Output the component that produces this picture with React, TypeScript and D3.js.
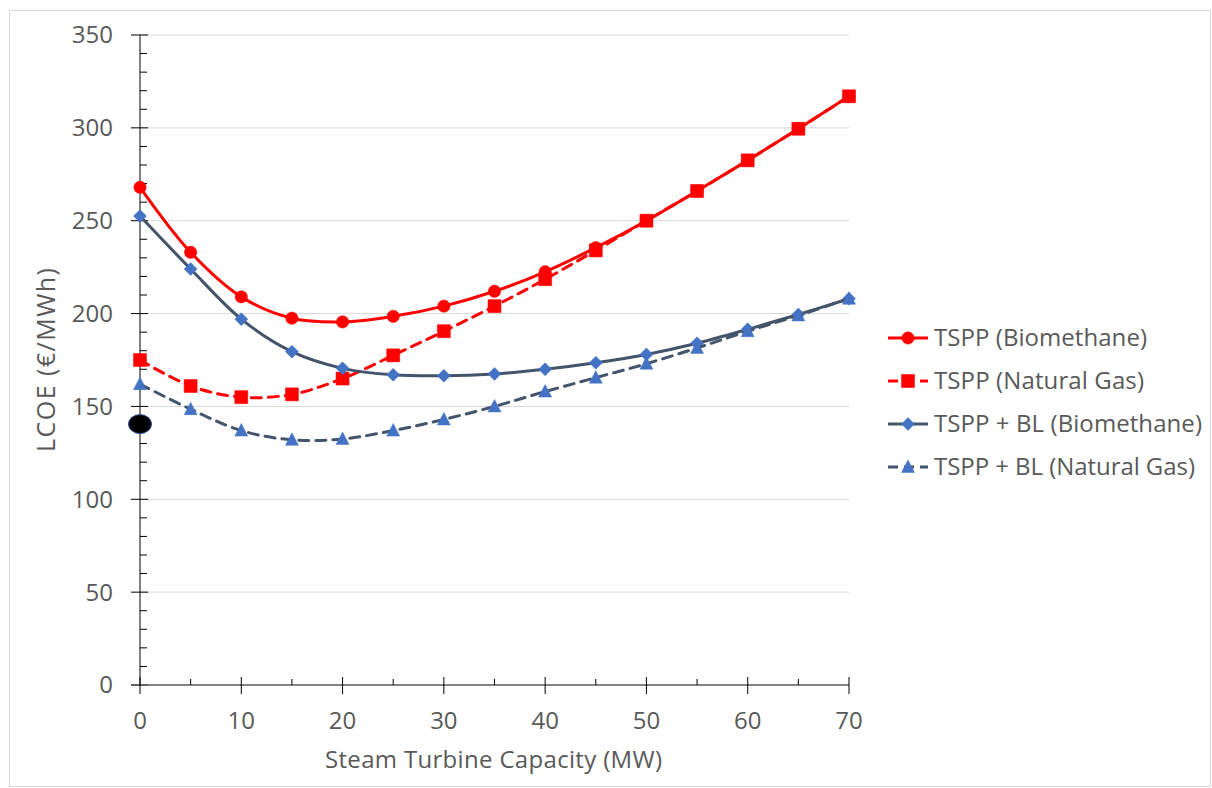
import React, { useEffect } from "react";
import * as d3 from "d3";

const capacities = [0, 5, 10, 15, 20, 25, 30, 35, 40, 45, 50, 55, 60, 65, 70];
const tsppBiomethane = [268, 233, 209, 197.5, 195.5, 198.5, 204, 212, 222.5, 235.5, 250, 266, 282.5, 299.5, 317];
const tsppNaturalGas = [175, 161, 155, 156.5, 165, 177.5, 190.5, 204, 218.5, 234, 250, 266, 282.5, 299.5, 317];
const tsppBlBiomethane = [252.5, 224, 197, 179.5, 170.5, 167, 166.5, 167.5, 170, 173.5, 178, 184, 191.5, 199.5, 208];
const tsppBlNaturalGas = [162, 148.5, 137, 132, 132.5, 137, 143, 150, 158, 165.5, 173, 181.5, 190.5, 199, 208];
const referencePoint = { x: 0, y: 140.5 };
const yTicks = [0, 50, 100, 150, 200, 250, 300, 350];
const xTicks = [0, 10, 20, 30, 40, 50, 60, 70];
const seriesNames = ["TSPP (Biomethane)", "TSPP (Natural Gas)", "TSPP + BL (Biomethane)", "TSPP + BL (Natural Gas)"];

const W = 1212, H = 788;
const plot = { left: 140, right: 849, top: 35, bottom: 685 };
const FONT = "'Open Sans', sans-serif";
const TXT = "#595959";

type Marker = "circle" | "square" | "diamond" | "triangle";
const series = [
  { name: seriesNames[0], values: tsppBiomethane, color: "#FF0000", marker: "circle" as Marker, markerColor: "#FF0000", dashed: false, labelLen: 213 },
  { name: seriesNames[1], values: tsppNaturalGas, color: "#FF0000", marker: "square" as Marker, markerColor: "#FF0000", dashed: true, labelLen: 210 },
  { name: seriesNames[2], values: tsppBlBiomethane, color: "#44546A", marker: "diamond" as Marker, markerColor: "#4472C4", dashed: false, labelLen: 268 },
  { name: seriesNames[3], values: tsppBlNaturalGas, color: "#44546A", marker: "triangle" as Marker, markerColor: "#4472C4", dashed: true, labelLen: 261 },
];

function markerPath(m: Marker): string {
  switch (m) {
    case "circle":
      return d3.symbol(d3.symbolCircle, 120)()!;
    case "square":
      return "M-6.5,-6.5H6.5V6.5H-6.5Z";
    case "diamond":
      return "M0,-6.5L6.5,0L0,6.5L-6.5,0Z";
    case "triangle":
      return "M0,-7L6.5,5.5L-6.5,5.5Z";
  }
}

export default function App() {
  useEffect(() => {
    document.body.style.margin = "0";
    document.body.style.overflow = "hidden";
  }, []);

  const x = d3.scaleLinear().domain([0, 70]).range([plot.left, plot.right]);
  const y = d3.scaleLinear().domain([0, 350]).range([plot.bottom, plot.top]);
  const line = d3
    .line<number>()
    .x((_, i) => x(capacities[i]))
    .y((v) => y(v))
    .curve(d3.curveCatmullRom.alpha(0.5));

  const yMinor = d3.range(0, 351, 10).filter((v) => v % 50 !== 0);
  const xMinor = d3.range(5, 70, 10);
  const legendY = [338, 381, 424, 467];

  return (
    <svg width={W} height={H} style={{ display: "block" }}>
      <rect x={0} y={0} width={W} height={H} fill="#fff" />
      <rect x={9.5} y={10.5} width={1201} height={776} fill="none" stroke="#D9D9D9" />
      {/* gridlines */}
      {yTicks.filter((t) => t > 0).map((t) => (
        <line key={"g" + t} x1={plot.left} x2={plot.right} y1={y(t)} y2={y(t)} stroke="#D9D9D9" strokeWidth={1} />
      ))}
      {/* y axis */}
      <line x1={plot.left} x2={plot.left} y1={plot.top} y2={plot.bottom} stroke="#595959" strokeWidth={1.5} />
      {yTicks.map((t) => (
        <line key={"yt" + t} x1={plot.left - 9} x2={plot.left + 8} y1={y(t)} y2={y(t)} stroke="#000" strokeWidth={1} />
      ))}
      {yMinor.map((t) => (
        <line key={"ym" + t} x1={plot.left} x2={plot.left + 7} y1={y(t)} y2={y(t)} stroke="#000" strokeWidth={1} />
      ))}
      {yTicks.map((t) => (
        <text key={"yl" + t} x={plot.left - 27} y={y(t)} dy="0.35em" textAnchor="end" fontFamily={FONT} fontSize={24} fill={TXT}>
          {t}
        </text>
      ))}
      {/* x axis */}
      <line x1={plot.left - 9} x2={plot.right} y1={plot.bottom} y2={plot.bottom} stroke="#595959" strokeWidth={1.5} />
      {xTicks.map((t) => (
        <line key={"xt" + t} x1={x(t)} x2={x(t)} y1={plot.bottom - 8} y2={plot.bottom + 9} stroke="#000" strokeWidth={1} />
      ))}
      {xMinor.map((t) => (
        <line key={"xm" + t} x1={x(t)} x2={x(t)} y1={plot.bottom - 6} y2={plot.bottom} stroke="#000" strokeWidth={1} />
      ))}
      {xTicks.map((t) => (
        <text key={"xl" + t} x={x(t)} y={721} dy="0.35em" textAnchor="middle" fontFamily={FONT} fontSize={24} fill={TXT}>
          {t}
        </text>
      ))}
      <text x={493.5} y={760} dy="0.35em" textAnchor="middle" fontFamily={FONT} fontSize={24} fill={TXT} textLength={337} lengthAdjust="spacing">
        Steam Turbine Capacity (MW)
      </text>
      <text transform="translate(46,360) rotate(-90)" dy="0.35em" textAnchor="middle" fontFamily={FONT} fontSize={25} fill={TXT} textLength={184} lengthAdjust="spacing">
        LCOE (€/MWh)
      </text>
      {/* series */}
      {series.map((s) => (
        <g key={s.name}>
          <path d={line(s.values)!} fill="none" stroke={s.color} strokeWidth={3} strokeDasharray={s.dashed ? "10,7" : undefined} strokeLinecap="round" />
          {s.values.map((v, i) => (
            <path key={i} d={markerPath(s.marker)} transform={`translate(${x(capacities[i])},${y(v)})`} fill={s.markerColor} stroke={s.markerColor} strokeWidth={0.5} />
          ))}
        </g>
      ))}
      {/* reference point */}
      <ellipse cx={x(referencePoint.x)} cy={y(referencePoint.y)} rx={11.5} ry={9.5} fill="#000" stroke="#2F5597" strokeWidth={1} />
      {/* legend */}
      {series.map((s, i) => (
        <g key={"lg" + i} transform={`translate(888,${legendY[i]})`}>
          <line x1={0} x2={40} y1={0} y2={0} stroke={s.color} strokeWidth={3} strokeDasharray={s.dashed ? "10,6" : undefined} />
          <path d={markerPath(s.marker)} transform="translate(20,0)" fill={s.markerColor} stroke={s.markerColor} strokeWidth={0.5} />
          <text x={46} y={0} dy="0.35em" fontFamily={FONT} fontSize={24} fill={TXT} textLength={s.labelLen} lengthAdjust="spacing">
            {s.name}
          </text>
        </g>
      ))}
    </svg>
  );
}
